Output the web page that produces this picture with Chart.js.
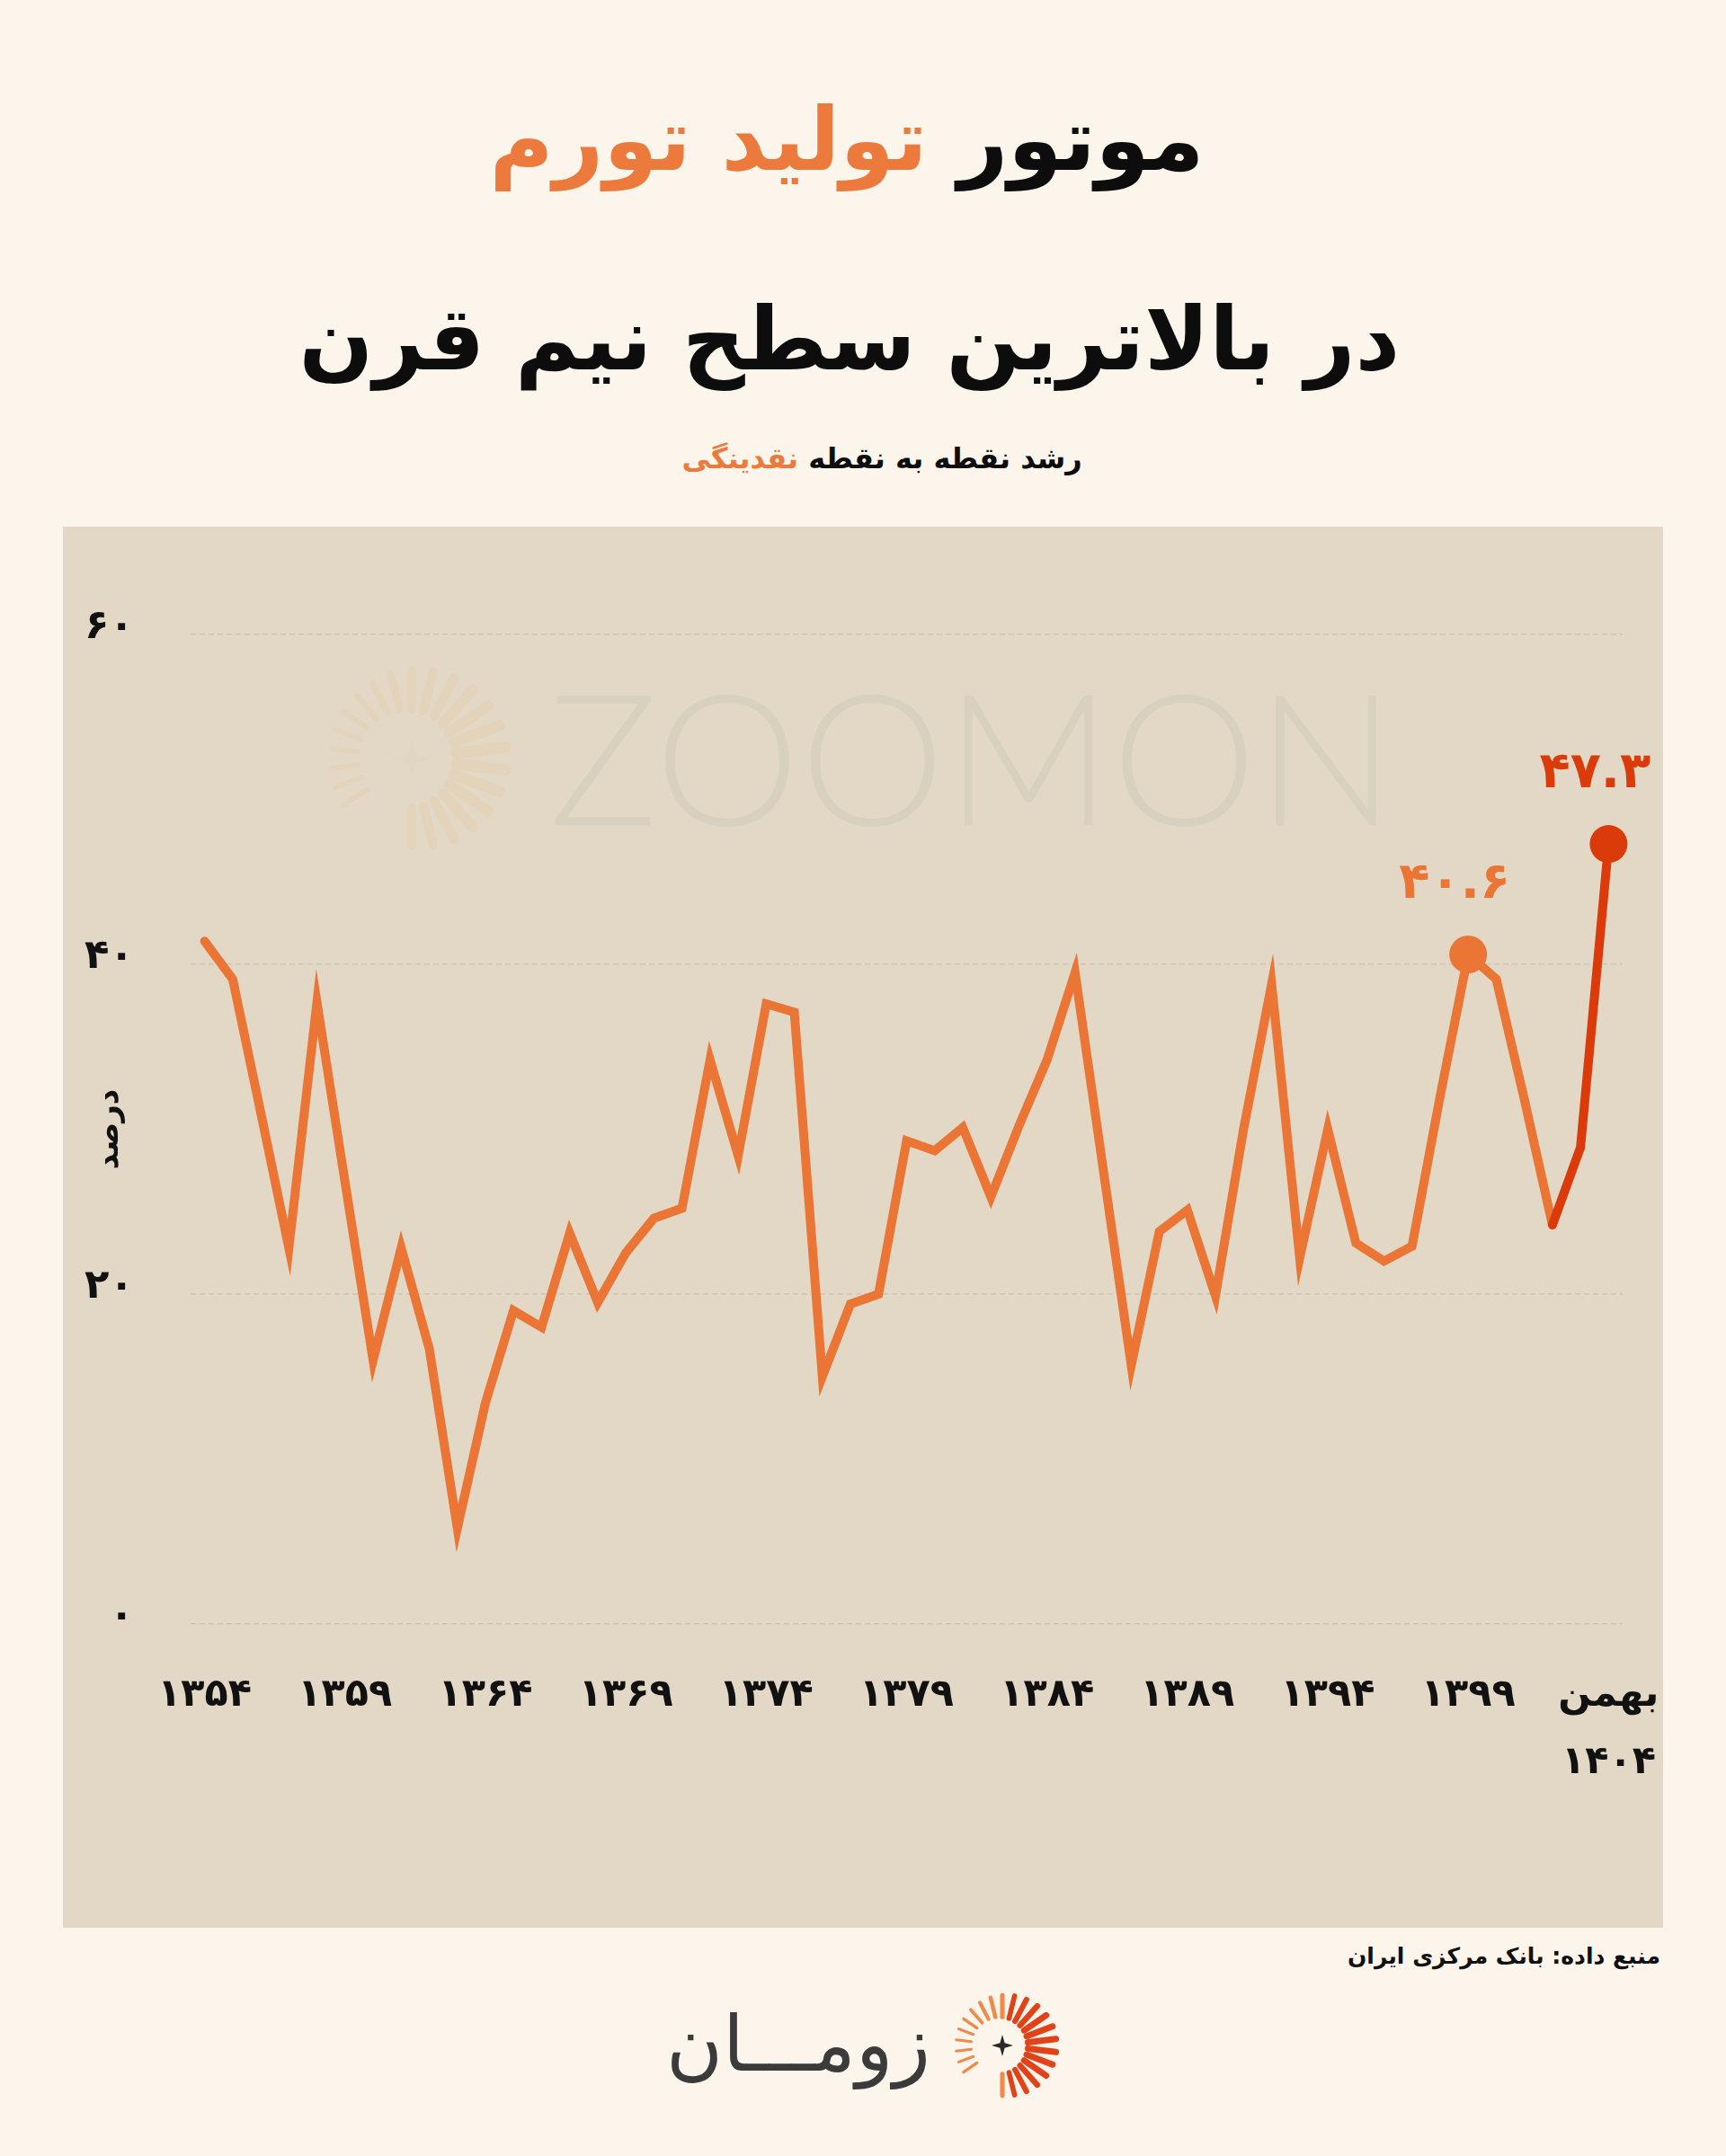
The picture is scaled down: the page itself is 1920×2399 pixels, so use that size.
<!DOCTYPE html>
<html lang="fa">
<head>
<meta charset="utf-8">
<script src="https://cdn.jsdelivr.net/npm/chart.js@4.4.1/dist/chart.umd.min.js"></script>
<style>
  html, body { margin: 0; padding: 0; }
  body { width: 1920px; height: 2399px; background: #fcf5ec; position: relative; overflow: hidden; font-family: "DejaVu Sans", sans-serif; }
  .t { position: absolute; left: 0; width: 1920px; text-align: center; direction: rtl; font-weight: bold; color: #0d0d0d; white-space: nowrap; }
  .or { color: #ec7a3c; }
  #t1 { top: 96px; left: -18px; font-size: 97px; line-height: 120px; }
  #t2 { top: 318px; left: -15px; font-size: 97px; line-height: 120px; }
  #t3 { top: 485px; left: 21px; font-size: 32px; line-height: 50px; }
  #panel { position: absolute; left: 70px; top: 586px; width: 1780px; height: 1559px; background: #e2d8c5; }
  #source { position: absolute; right: 73px; top: 2157px; font-size: 25px; line-height: 40px; font-weight: bold; direction: rtl; color: #111; }
  #brand { position: absolute; right: 885px; top: 2214px; font-size: 86px; line-height: 120px; direction: rtl; color: #3b3b3b; }
  #icon { position: absolute; left: 1050px; top: 2211px; }
</style>
</head>
<body>
<div class="t" id="t1">موتور <span class="or">تولید تورم</span></div>
<div class="t" id="t2">در بالاترین سطح نیم قرن</div>
<div class="t" id="t3">رشد نقطه به نقطه <span class="or">نقدینگی</span></div>
<div id="panel"><canvas id="chart"></canvas></div>
<div id="source">منبع داده: بانک مرکزی ایران</div>
<div id="brand">زومـــان</div>
<canvas id="icon" width="130" height="130"></canvas>
<script>
// years (solar hijri), last point is Bahman 1404
const years = [1354, 1355, 1356, 1357, 1358, 1359, 1360, 1361, 1362, 1363,
  1364, 1365, 1366, 1367, 1368, 1369, 1370, 1371, 1372, 1373,
  1374, 1375, 1376, 1377, 1378, 1379, 1380, 1381, 1382, 1383,
  1384, 1385, 1386, 1387, 1388, 1389, 1390, 1391, 1392, 1393,
  1394, 1395, 1396, 1397, 1398, 1399, 1400, 1401, 1402, 1403, 1404];

// point to point liquidity growth, percent
const growth = [41.4, 39.1, 31.0, 22.8, 37.7, 26.8, 16.0, 22.8, 16.7, 5.8,
  13.4, 19.0, 18.0, 23.7, 19.5, 22.5, 24.6, 25.2, 34.2, 28.4,
  37.6, 37.1, 15.0, 19.4, 20.0, 29.3, 28.7, 30.1, 25.9, 30.2,
  34.2, 39.5, 27.6, 15.7, 23.8, 25.1, 19.9, 30.0, 38.8, 22.2,
  30.0, 23.1, 22.0, 22.9, 32.0, 40.6, 39.1, 31.8, 24.2, 28.9, 47.3];

const tickYears = [1354, 1359, 1364, 1369, 1374, 1379, 1384, 1389, 1394, 1399];
const lastLabel = ['بهمن', '۱۴۰۴'];
const yTicks = [0, 20, 40, 60];

const highlightIdx = [45, 50];
const redFrom = 48;

const orange = '#ea7535';
const red = '#db3a0b';

const fa = s => String(s).replace(/\d/g, d => '۰۱۲۳۴۵۶۷۸۹'[d]);

Chart.defaults.font.family = '"DejaVu Sans", sans-serif';

function drawSun(ctx, cx, cy, R, colIn, colOut, alpha, starColor) {
  ctx.save();
  ctx.globalAlpha = alpha;
  ctx.lineCap = 'round';
  const n = 26;
  for (let i = 0; i < n; i++) {
    const a = -Math.PI / 2 + i * 2 * Math.PI / n;
    let deg = ((a * 180 / Math.PI) + 360) % 360;
    if (deg > 98 && deg < 142) continue;
    const w = 0.5 + 0.5 * Math.cos(a);
    const r0 = R * (0.58 - 0.1 * w);
    const r1 = R * (0.86 + 0.14 * w);
    ctx.strokeStyle = w > 0.5 ? colOut : colIn;
    ctx.lineWidth = R * (0.05 + 0.07 * w);
    ctx.beginPath();
    ctx.moveTo(cx + r0 * Math.cos(a), cy + r0 * Math.sin(a));
    ctx.lineTo(cx + r1 * Math.cos(a), cy + r1 * Math.sin(a));
    ctx.stroke();
  }
  const s = R * 0.2;
  ctx.fillStyle = starColor;
  ctx.beginPath();
  ctx.moveTo(cx, cy - s);
  ctx.lineTo(cx + s * 0.22, cy - s * 0.22);
  ctx.lineTo(cx + s, cy);
  ctx.lineTo(cx + s * 0.22, cy + s * 0.22);
  ctx.lineTo(cx, cy + s);
  ctx.lineTo(cx - s * 0.22, cy + s * 0.22);
  ctx.lineTo(cx - s, cy);
  ctx.lineTo(cx - s * 0.22, cy - s * 0.22);
  ctx.closePath();
  ctx.fill();
  ctx.restore();
}

const watermark = {
  id: 'watermark',
  beforeDraw(chart) {
    const ctx = chart.ctx;
    drawSun(ctx, 388, 258, 105, '#e8c29c', '#e8c29c', 0.25, '#d8cab2');
    ctx.save();
    ctx.font = '300 204px Lato';
    ctx.fillStyle = '#d9d1bf';
    ctx.textAlign = 'center';
    ctx.textBaseline = 'middle';
    ctx.fillText('ZOOMON', 1011, 266);
    ctx.restore();
  }
};

const valueLabels = {
  id: 'valueLabels',
  afterDatasetsDraw(chart) {
    const meta = chart.getDatasetMeta(0);
    const ctx = chart.ctx;
    ctx.save();
    ctx.font = 'bold 56px "DejaVu Sans"';
    ctx.textAlign = 'center';
    ctx.textBaseline = 'middle';
    highlightIdx.forEach(idx => {
      const pt = meta.data[idx];
      ctx.fillStyle = idx >= redFrom ? red : orange;
      ctx.fillText(fa(growth[idx].toFixed(1)), pt.x - 15, pt.y - 78);
    });
    ctx.restore();
  }
};

new Chart(document.getElementById('chart'), {
  type: 'line',
  data: {
    labels: years.map(String),
    datasets: [{
      data: growth,
      borderColor: orange,
      borderWidth: 10,
      borderCapStyle: 'round',
      tension: 0,
      fill: false,
      clip: false,
      pointRadius: ctx => highlightIdx.includes(ctx.dataIndex) ? 21 : 0,
      pointHoverRadius: ctx => highlightIdx.includes(ctx.dataIndex) ? 21 : 0,
      pointBorderWidth: 0,
      pointBackgroundColor: ctx => ctx.dataIndex >= redFrom ? red : orange,
      segment: {
        borderColor: ctx => ctx.p0DataIndex >= redFrom ? red : orange
      }
    }]
  },
  options: {
    responsive: true,
    maintainAspectRatio: false,
    animation: false,
    events: [],
    layout: { padding: { top: 120, right: 45, left: 0, bottom: 0 } },
    plugins: { legend: { display: false }, tooltip: { enabled: false } },
    scales: {
      x: {
        offset: true,
        grid: { display: false },
        border: { display: false },
        ticks: {
          autoSkip: false, maxRotation: 0, minRotation: 0,
          padding: 34, color: '#111',
          font: { size: 43, weight: 'bold', lineHeight: 1.75 },
          callback: (v, i) => {
            if (i === years.length - 1) return lastLabel;
            return tickYears.includes(years[i]) ? fa(years[i]) : '';
          }
        },
        afterFit: s => { s.height = 338; s.paddingLeft = 0; s.paddingRight = 0; }
      },
      y: {
        min: 0, max: 60,
        afterBuildTicks: s => { s.ticks = yTicks.map(v => ({ value: v })); },
        ticks: {
          padding: 63, labelOffset: -8, color: '#111',
          font: { size: 45, weight: 'bold' },
          callback: v => fa(v)
        },
        grid: { color: '#cdc5b3', lineWidth: 1.5, drawTicks: false },
        border: { display: false, dash: [6, 4] },
        title: {
          display: true, text: 'درصد', color: '#111',
          font: { size: 34, weight: 'bold' },
          padding: { top: 32 }
        },
        afterFit: s => { s.width = 142; s.paddingTop = 0; s.paddingBottom = 0; }
      }
    }
  },
  plugins: [watermark, valueLabels]
});

drawSun(document.getElementById('icon').getContext('2d'), 65, 65, 60, '#f08a4b', '#e0431a', 1, '#2a2a2a');
</script>
</body>
</html>
